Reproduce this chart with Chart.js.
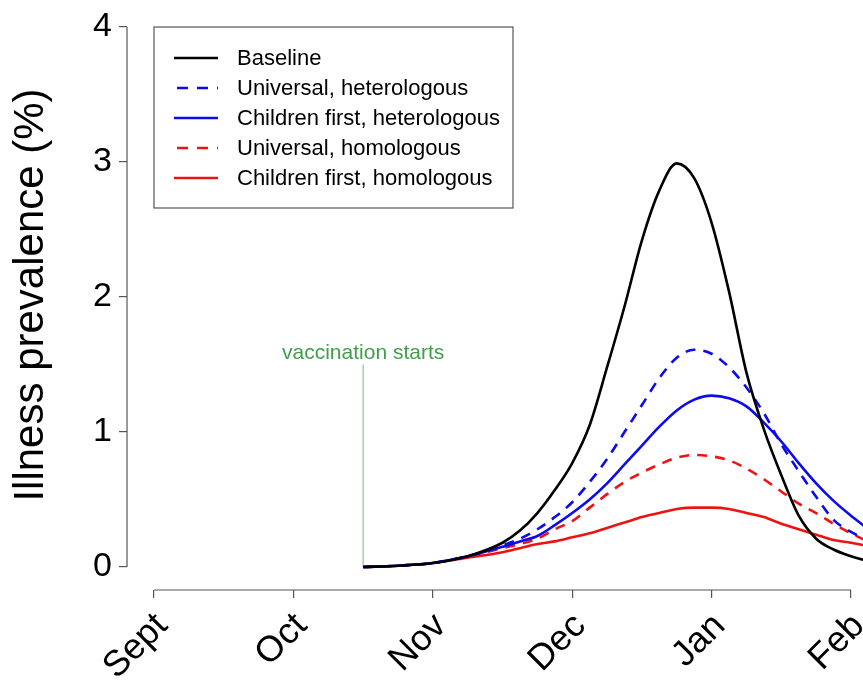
<!DOCTYPE html>
<html>
<head>
<meta charset="utf-8">
<script src="https://cdn.jsdelivr.net/npm/chart.js@4.4.1/dist/chart.umd.min.js"></script>
<style>
  body { margin: 0; background: #fff; }
  canvas { display: block; }
</style>
</head>
<body>
<canvas id="chart" width="863" height="681"></canvas>
<script>
// months on the x axis (Sept = 0)
const monthLabels = ['Sept', 'Oct', 'Nov', 'Dec', 'Jan', 'Feb'];
const monthTicks = [0, 1, 2, 3, 4, 5];
const yTicks = [0, 1, 2, 3, 4];

// vaccination begins mid October
const vaccStart = 1.5;
const vaccLabelHeight = 1.5;

// sample positions (in months) for all curves
const t = [1.5, 1.75, 2.0, 2.25, 2.5, 2.625, 2.75, 2.875, 3.0, 3.125, 3.25, 3.375, 3.5, 3.625,
           3.75, 3.875, 4.0, 4.125, 4.25, 4.375, 4.5, 4.625, 4.75, 4.875, 5.0, 5.1];

const baseline      = [0, 0.01, 0.03, 0.08, 0.18, 0.27, 0.40, 0.57, 0.77, 1.05, 1.48, 1.93, 2.42, 2.79,
                       2.99, 2.88, 2.55, 2.04, 1.44, 1.02, 0.68, 0.38, 0.21, 0.13, 0.08, 0.05];
const univHetero    = [0, 0.01, 0.03, 0.08, 0.16, 0.21, 0.28, 0.37, 0.48, 0.63, 0.80, 1.00, 1.20, 1.40,
                       1.55, 1.61, 1.58, 1.48, 1.33, 1.14, 0.91, 0.71, 0.52, 0.35, 0.26, 0.21];
const childHetero   = [0, 0.01, 0.03, 0.08, 0.15, 0.19, 0.23, 0.31, 0.40, 0.50, 0.62, 0.76, 0.90, 1.04,
                       1.16, 1.24, 1.27, 1.25, 1.19, 1.07, 0.93, 0.77, 0.62, 0.49, 0.38, 0.30];
const univHomo      = [0, 0.01, 0.03, 0.08, 0.14, 0.17, 0.21, 0.28, 0.34, 0.44, 0.54, 0.63, 0.70, 0.76,
                       0.81, 0.83, 0.82, 0.79, 0.73, 0.65, 0.56, 0.47, 0.40, 0.32, 0.25, 0.20];
const childHomo     = [0, 0.01, 0.03, 0.07, 0.11, 0.14, 0.17, 0.19, 0.22, 0.25, 0.29, 0.33, 0.37, 0.40,
                       0.43, 0.44, 0.44, 0.43, 0.40, 0.37, 0.32, 0.28, 0.24, 0.20, 0.18, 0.16];

const BLUE = '#0b0bec';
const RED = '#ee1313';
const GREEN = '#3f9f4a';
const AXIS = '#555';
const FONT = '"Liberation Sans", Arial, sans-serif';

function pts(vals) {
    return t.map((x, i) => ({ x: x, y: vals[i] }));
}

function series(label, vals, color, dashed) {
    return {
        label: label,
        data: pts(vals),
        borderColor: color,
        borderWidth: 2.6,
        borderDash: dashed ? [10, 8] : [],
        pointRadius: 0,
        cubicInterpolationMode: 'monotone',
        fill: false
    };
}

const datasets = [
    series('Baseline', baseline, '#000', false),
    series('Universal, heterologous', univHetero, BLUE, true),
    series('Children first, heterologous', childHetero, BLUE, false),
    series('Universal, homologous', univHomo, RED, true),
    series('Children first, homologous', childHomo, RED, false),
    {
        label: 'vaccination',
        data: [{ x: vaccStart, y: 0 }, { x: vaccStart, y: vaccLabelHeight }],
        borderColor: '#8cc695',
        borderWidth: 1.2,
        pointRadius: 0,
        hideInLegend: true
    }
];

// R-like axes, legend and annotation text
const rStyle = {
    id: 'rStyle',
    afterDraw(chart) {
        const ctx = chart.ctx;
        const xs = chart.scales.x, ys = chart.scales.y;
        const area = chart.chartArea;
        ctx.save();
        ctx.strokeStyle = AXIS;
        ctx.lineWidth = 1.2;
        // y axis line
        ctx.beginPath();
        ctx.moveTo(area.left, ys.getPixelForValue(yTicks[0]));
        ctx.lineTo(area.left, ys.getPixelForValue(yTicks[yTicks.length - 1]));
        ctx.stroke();
        // x axis line
        ctx.beginPath();
        ctx.moveTo(xs.getPixelForValue(monthTicks[0]), area.bottom);
        ctx.lineTo(xs.getPixelForValue(monthTicks[monthTicks.length - 1]), area.bottom);
        ctx.stroke();

        // vaccination text
        ctx.fillStyle = GREEN;
        ctx.font = '21px ' + FONT;
        ctx.textAlign = 'center';
        ctx.textBaseline = 'alphabetic';
        ctx.fillText('vaccination starts', xs.getPixelForValue(vaccStart), ys.getPixelForValue(vaccLabelHeight) - 6);

        // legend box
        const bx = 154, by = 27, bw = 359, bh = 181;
        ctx.strokeStyle = AXIS;
        ctx.lineWidth = 1.2;
        ctx.strokeRect(bx, by, bw, bh);
        ctx.font = '22px ' + FONT;
        ctx.textAlign = 'left';
        ctx.textBaseline = 'middle';
        let row = 0;
        chart.data.datasets.forEach(ds => {
            if (ds.hideInLegend) return;
            const y = 58 + row * 30;
            ctx.strokeStyle = ds.borderColor;
            ctx.lineWidth = ds.borderWidth;
            ctx.setLineDash(ds.borderDash.length ? [11, 9] : []);
            ctx.beginPath();
            ctx.moveTo(ds.borderDash.length ? 177 : 174, y);
            ctx.lineTo(218, y);
            ctx.stroke();
            ctx.setLineDash([]);
            ctx.fillStyle = '#000';
            ctx.fillText(ds.label, 237, y + 1);
            row++;
        });
        ctx.restore();
    }
};

new Chart(document.getElementById('chart'), {
    type: 'line',
    data: { datasets: datasets },
    options: {
        responsive: false,
        animation: false,
        layout: { padding: 0 },
        plugins: {
            legend: { display: false },
            tooltip: { enabled: false }
        },
        scales: {
            x: {
                type: 'linear',
                min: -0.194,
                max: 5.086,
                afterBuildTicks: s => { s.ticks = monthTicks.map(v => ({ value: v })); },
                afterFit: s => { s.height = 91; s.paddingLeft = 0; s.paddingRight = 0; },
                border: { display: false },
                grid: { drawOnChartArea: false, tickLength: 8, color: AXIS, lineWidth: 1.2 },
                ticks: {
                    autoSkip: false,
                    minRotation: 45,
                    maxRotation: 45,
                    padding: 7,
                    labelOffset: 8,
                    color: '#000',
                    font: { family: FONT, size: 36 },
                    callback: v => monthLabels[monthTicks.indexOf(v)]
                }
            },
            y: {
                type: 'linear',
                min: -0.17,
                max: 4.2,
                afterBuildTicks: s => { s.ticks = yTicks.map(v => ({ value: v })); },
                afterFit: s => { s.width = 127; s.paddingTop = 0; s.paddingBottom = 0; },
                border: { display: false },
                grid: { drawOnChartArea: false, tickLength: 8, color: AXIS, lineWidth: 1.2 },
                ticks: {
                    padding: 7,
                    color: '#000',
                    font: { family: FONT, size: 34 },
                    callback: v => String(v)
                },
                title: {
                    display: true,
                    text: 'Illness prevalence (%)',
                    color: '#000',
                    font: { family: FONT, size: 42 },
                    padding: { top: 6, bottom: 0 }
                }
            }
        }
    },
    plugins: [rStyle]
});
</script>
</body>
</html>
